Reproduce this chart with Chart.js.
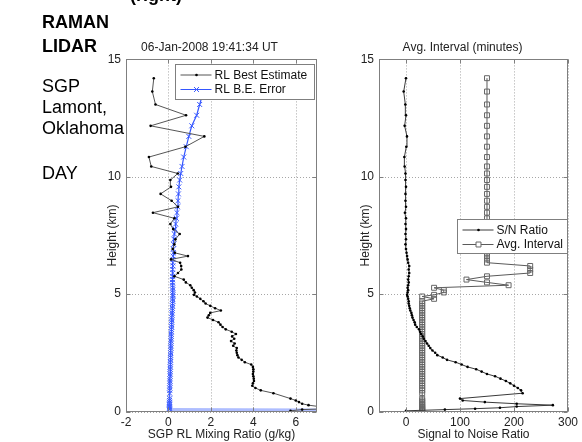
<!DOCTYPE html>
<html>
<head>
<meta charset="utf-8">
<script src="https://cdn.jsdelivr.net/npm/chart.js@4.4.1/dist/chart.umd.min.js"></script>
<style>
  body { margin: 0; background: #fff; width: 582px; height: 442px; overflow: hidden; position: relative;
         font-family: "Liberation Sans", Arial, sans-serif; }
  canvas { position: absolute; top: 0; }
  .note { position: absolute; left: 42px; font-size: 18px; line-height: 18px; color: #000; white-space: nowrap; }
  .bold { font-weight: bold; }
</style>
</head>
<body>
<canvas id="mix" width="330" height="442" style="left:0"></canvas>
<canvas id="snr" width="252" height="442" style="left:330px"></canvas>

<div class="note bold" style="top:-14.5px; left:130px">(right)</div>
<div class="note bold" style="top:12.6px">RAMAN</div>
<div class="note bold" style="top:36.6px">LIDAR</div>
<div class="note" style="top:76.6px">SGP</div>
<div class="note" style="top:97.6px">Lamont,</div>
<div class="note" style="top:118.6px">Oklahoma</div>
<div class="note" style="top:163.6px">DAY</div>

<script>
// profile levels (km), shared by both panels
const heights = [
  0.03, 0.08, 0.12, 0.16, 0.21, 0.27, 0.33, 0.40, 0.47, 0.55,
  0.78, 0.90, 1.00, 1.10, 1.20, 1.30, 1.40, 1.50, 1.60, 1.70,
  1.80, 1.90, 2.00, 2.10, 2.20, 2.30, 2.40, 2.50, 2.60, 2.70,
  2.80, 2.90, 3.00, 3.10, 3.20, 3.30, 3.40, 3.50, 3.60, 3.70,
  3.80, 3.90, 4.00, 4.10, 4.20, 4.30, 4.40, 4.50, 4.60, 4.70,
  4.80, 4.90, 4.97, 5.07, 5.17, 5.27, 5.38, 5.50, 5.62, 5.76,
  5.90, 6.05, 6.20, 6.34, 6.48, 6.62, 6.76, 6.92, 7.12, 7.34,
  7.56, 7.77, 7.99, 8.23, 8.47, 8.72, 8.98, 9.27, 9.57, 9.86,
  10.14, 10.44, 10.84, 11.28, 11.72, 12.17, 12.62, 13.08, 13.63, 14.20
];

// water vapor mixing ratio, best estimate (g/kg)
const mixingRatio = [
  5.75, 6.30, 7.60, 7.80, 7.10, 6.60, 6.30, 6.15, 6.00, 5.75,
  4.95, 4.35, 4.10, 3.95, 3.98, 4.03, 4.02, 4.00, 3.98, 4.00,
  4.00, 3.98, 3.90, 3.60, 3.45, 3.30, 3.25, 3.22, 3.20, 3.22,
  3.05, 3.12, 2.95, 3.10, 3.00, 3.18, 2.98, 2.70, 2.55, 2.45,
  2.36, 2.10, 1.84, 1.90, 1.97, 2.47, 2.20, 1.97, 1.75, 1.65,
  1.50, 1.34, 1.20, 1.25, 1.19, 1.10, 1.03, 0.82, 0.72, 0.28,
  0.45, 0.61, 0.60, 0.55, 0.12, 0.92, 0.30, 0.20, 0.28, 0.33,
  0.53, 0.22, 0.09, 0.28, -0.73, 0.45, 0.15, -0.37, 0.12, 0.09,
  0.44, -0.81, -0.92, 0.80, 1.69, -0.84, 0.83, -0.61, -0.76, -0.69
];

// random error of the best estimate (g/kg)
const mixingError = [
  25.0, 0.05, 0.05, 0.05, 0.05, 0.05, 0.05, 0.05, 0.05, 0.06,
  0.06, 0.06, 0.06, 0.07, 0.07, 0.07, 0.07, 0.08, 0.08, 0.08,
  0.08, 0.09, 0.09, 0.09, 0.10, 0.10, 0.10, 0.11, 0.11, 0.11,
  0.12, 0.12, 0.12, 0.13, 0.13, 0.13, 0.14, 0.14, 0.15, 0.15,
  0.15, 0.16, 0.16, 0.17, 0.17, 0.18, 0.18, 0.19, 0.19, 0.20,
  0.20, 0.21, 0.21, 0.21, 0.20, 0.20, 0.19, 0.19, 0.19, 0.19,
  0.20, 0.20, 0.21, 0.21, 0.22, 0.22, 0.23, 0.23, 0.24, 0.26,
  0.28, 0.31, 0.34, 0.37, 0.40, 0.43, 0.45, 0.47, 0.49, 0.53,
  0.58, 0.64, 0.72, 0.84, 0.96, 1.10, 1.33, 1.47, 1.65, 1.85
];

// signal to noise ratio
const snRatio = [
  0, 72, 128, 174, 205, 272, 205, 146, 105, 100,
  216, 213, 207, 200, 193, 185, 175, 165, 150, 140,
  130, 114, 103, 92, 76, 68, 58, 54, 49, 45,
  42, 39, 36, 33, 31, 28, 26, 24, 20, 17,
  16, 14, 12, 11, 10, 8, 7, 6, 5, 5,
  4, 3, 2, 3, 4, 3, 4, 5, 4, 5,
  6, 5, 6, 4, 3, 2, 1, 0, -1, 0,
  -1, 0, -1, 0, -2, 0, -1, -1, 0, -1,
  -1, -2.5, -3, 0.6, 1.8, -2.5, 0, -1.2, -4.3, 0
];

// averaging interval (minutes)
const avgInterval = [
  30, 30, 30, 30, 30, 30, 30, 30, 30, 30,
  30, 30, 30, 30, 30, 30, 30, 30, 30, 30,
  30, 30, 30, 30, 30, 30, 30, 30, 30, 30,
  30, 30, 30, 30, 30, 30, 30, 30, 30, 30,
  30, 30, 30, 30, 30, 30, 30, 30, 30, 30,
  52, 30, 52, 70, 70, 52, 190, 150, 112, 150,
  230, 230, 230, 150, 150, 150, 150, 150, 150, 150,
  150, 150, 150, 150, 150, 150, 150, 150, 150, 150,
  150, 150, 150, 150, 150, 150, 150, 150, 150, 150
];

const mixTicks = { min: -2, max: 7, step: 2 };
const snrTicks = { min: -50, max: 300, step: 100 };
const heightTicks = { min: 0, max: 15, step: 5 };

Chart.defaults.font.family = '"Liberation Sans", Arial, sans-serif';
Chart.defaults.font.size = 12;
Chart.defaults.color = '#222';

function profile(values) {
  return values.map((v, i) => ({ x: v, y: heights[i] }));
}

// dotted grid, axis box and short inward ticks, like the matlab axes
const frameBox = {
  id: 'frameBox',
  beforeDatasetsDraw(chart) {
    const { ctx, chartArea: a, scales: { x, y } } = chart;
    ctx.save();
    ctx.strokeStyle = '#a6a6a6';
    ctx.lineWidth = 1;
    ctx.setLineDash([1, 2]);
    ctx.beginPath();
    x.ticks.forEach(t => {
      const px = Math.round(x.getPixelForValue(t.value)) + 0.5;
      ctx.moveTo(px, a.top); ctx.lineTo(px, a.bottom);
    });
    y.ticks.forEach(t => {
      const py = Math.round(y.getPixelForValue(t.value)) + 0.5;
      ctx.moveTo(a.left, py); ctx.lineTo(a.right, py);
    });
    ctx.stroke();
    ctx.restore();
  },
  afterDraw(chart) {
    const { ctx, chartArea: a, scales: { x, y } } = chart;
    const L = Math.round(a.left) + 0.5, R = Math.round(a.right) - 0.5;
    const T = Math.round(a.top) + 0.5, B = Math.round(a.bottom) - 0.5;
    ctx.save();
    ctx.strokeStyle = '#7f7f7f';
    ctx.lineWidth = 1;
    ctx.beginPath();
    x.ticks.forEach(t => {
      const px = Math.round(x.getPixelForValue(t.value)) + 0.5;
      ctx.moveTo(px, T); ctx.lineTo(px, T + 4);
      ctx.moveTo(px, B); ctx.lineTo(px, B - 4);
    });
    y.ticks.forEach(t => {
      const py = Math.round(y.getPixelForValue(t.value)) + 0.5;
      ctx.moveTo(L, py); ctx.lineTo(L + 4, py);
      ctx.moveTo(R, py); ctx.lineTo(R - 4, py);
    });
    ctx.stroke();
    ctx.strokeRect(L, T, R - L, B - T);
    ctx.restore();
  }
};

function drawMarker(ctx, ds, cx, cy) {
  const r = ds.pointRadius;
  ctx.beginPath();
  if (ds.pointStyle === 'crossRot') {
    const d = r * Math.SQRT1_2;
    ctx.moveTo(cx - d, cy - d); ctx.lineTo(cx + d, cy + d);
    ctx.moveTo(cx + d, cy - d); ctx.lineTo(cx - d, cy + d);
    ctx.strokeStyle = ds.pointBorderColor;
    ctx.lineWidth = ds.pointBorderWidth;
    ctx.stroke();
  } else if (ds.pointStyle === 'rect') {
    const s = r * Math.SQRT1_2;
    ctx.rect(cx - s, cy - s, 2 * s, 2 * s);
    ctx.fillStyle = '#fff';
    ctx.fill();
    ctx.strokeStyle = ds.pointBorderColor;
    ctx.lineWidth = ds.pointBorderWidth;
    ctx.stroke();
  } else {
    ctx.arc(cx, cy, r, 0, Math.PI * 2);
    ctx.fillStyle = ds.pointBackgroundColor;
    ctx.fill();
  }
}

// boxed legend placed inside the plot area
const boxLegend = {
  id: 'boxLegend',
  afterDraw(chart, args, opts) {
    const { ctx, chartArea: a } = chart;
    const bx = Math.round(a.left + opts.x) + 0.5, by = Math.round(a.top + opts.y) + 0.5;
    ctx.save();
    ctx.fillStyle = '#fff';
    ctx.fillRect(bx, by, opts.w, opts.h);
    ctx.strokeStyle = '#7f7f7f';
    ctx.lineWidth = 1;
    ctx.strokeRect(bx, by, opts.w, opts.h);
    chart.data.datasets.forEach((ds, i) => {
      const ry = by + 10.5 + i * 14.5;
      ctx.beginPath();
      ctx.moveTo(bx + 5, ry);
      ctx.lineTo(bx + 36, ry);
      ctx.strokeStyle = ds.borderColor;
      ctx.lineWidth = 1;
      ctx.stroke();
      drawMarker(ctx, ds, bx + 21, ry);
      ctx.fillStyle = '#111';
      ctx.font = '12px "Liberation Sans", Arial, sans-serif';
      ctx.textBaseline = 'middle';
      ctx.fillText(ds.label, bx + 39, ry + 0.5);
    });
    ctx.restore();
  }
};

function valueAxis(t, label, height) {
  return {
    type: 'linear', min: t.min, max: t.max,
    ticks: { stepSize: t.step, includeBounds: false, padding: 4, maxRotation: 0 },
    grid: { display: false, drawTicks: false },
    border: { display: false },
    title: { display: true, text: label, padding: 0 },
    afterFit(s) { s.height = height; }
  };
}

function heightAxis() {
  return {
    type: 'linear', min: heightTicks.min, max: heightTicks.max,
    ticks: { stepSize: heightTicks.step, includeBounds: false, padding: 5 },
    grid: { display: false, drawTicks: false },
    border: { display: false },
    title: { display: true, text: 'Height (km)', padding: { top: 3, bottom: 0 } },
    afterFit(s) { s.width = 24; }
  };
}

function panelTitle(text) {
  return { display: true, text: text, font: { size: 12, weight: 'normal' }, color: '#222', padding: { top: 40, bottom: 5 } };
}

new Chart(document.getElementById('mix'), {
  type: 'scatter',
  data: {
    datasets: [
      {
        label: 'RL Best Estimate', data: profile(mixingRatio), showLine: true,
        borderColor: '#555', borderWidth: 1,
        pointStyle: 'circle', pointRadius: 1.3, pointBackgroundColor: '#000', pointBorderWidth: 0
      },
      {
        label: 'RL B.E. Error', data: profile(mixingError), showLine: true,
        borderColor: '#3456ff', borderWidth: 1.2,
        pointStyle: 'crossRot', pointRadius: 3.5, pointBorderColor: '#3a5aff', pointBorderWidth: 1,
        segment: {
          borderColor: c => c.p0DataIndex === 0 ? 'rgba(120,145,255,0.6)' : undefined,
          borderWidth: c => c.p0DataIndex === 0 ? 3 : undefined
        }
      }
    ]
  },
  options: {
    responsive: false,
    animation: false,
    events: [],
    layout: { padding: { left: 102, right: 13, top: 0, bottom: 0 } },
    scales: {
      x: valueAxis(mixTicks, 'SGP RL Mixing Ratio (g/kg)', 30.5),
      y: heightAxis()
    },
    plugins: {
      legend: { display: false },
      tooltip: { enabled: false },
      title: panelTitle('06-Jan-2008 19:41:34 UT'),
      boxLegend: { x: 49, y: 4.5, w: 139, h: 35 }
    }
  },
  plugins: [frameBox, boxLegend]
});

new Chart(document.getElementById('snr'), {
  type: 'scatter',
  data: {
    datasets: [
      {
        label: 'S/N Ratio', data: profile(snRatio), showLine: true,
        borderColor: '#3a3a3a', borderWidth: 1,
        pointStyle: 'circle', pointRadius: 1.3, pointBackgroundColor: '#000', pointBorderWidth: 0
      },
      {
        label: 'Avg. Interval', data: profile(avgInterval), showLine: true,
        borderColor: '#5a5a5a', borderWidth: 1,
        pointStyle: 'rect', pointRadius: 3.5, pointBorderColor: '#666',
        pointBackgroundColor: 'rgba(255,255,255,0)', pointBorderWidth: 1
      }
    ]
  },
  options: {
    responsive: false,
    animation: false,
    events: [],
    layout: { padding: { left: 25, right: 12, top: 0, bottom: 0 } },
    scales: {
      x: valueAxis(snrTicks, 'Signal to Noise Ratio', 30.5),
      y: heightAxis()
    },
    plugins: {
      legend: { display: false },
      tooltip: { enabled: false },
      title: panelTitle('Avg. Interval (minutes)'),
      boxLegend: { x: 78, y: 159.5, w: 110, h: 34 }
    }
  },
  plugins: [frameBox, boxLegend]
});
</script>
</body>
</html>
